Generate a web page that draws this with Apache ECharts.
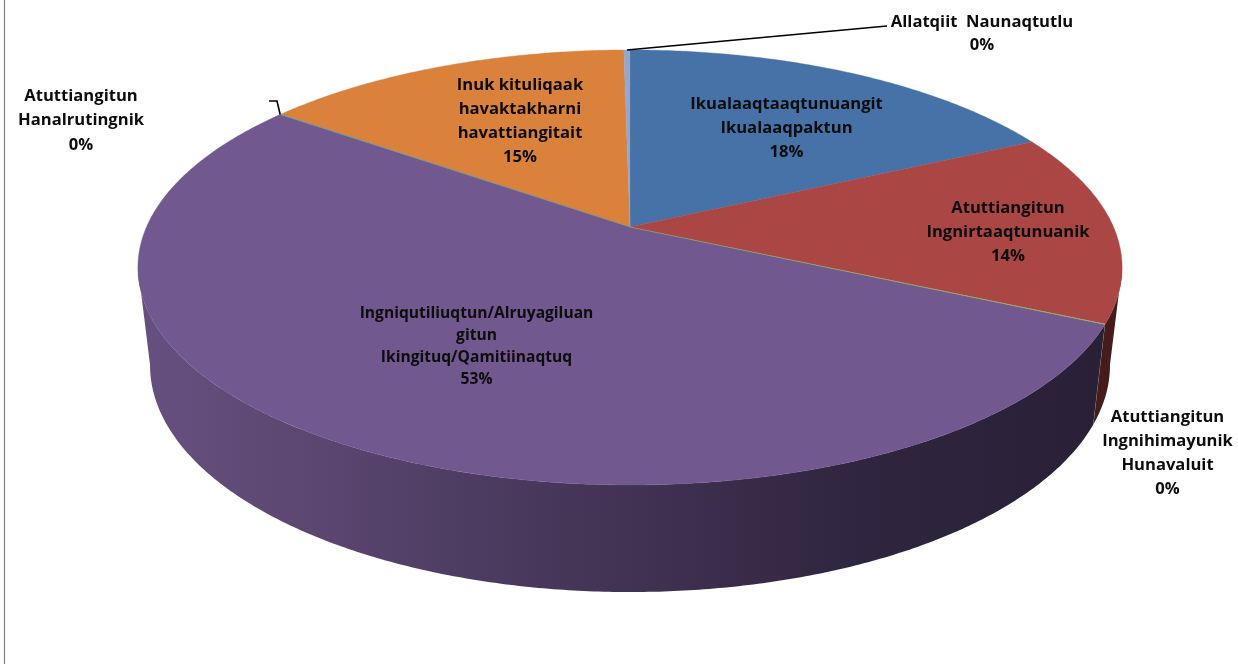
<!DOCTYPE html>
<html>
<head>
<meta charset="utf-8">
<style>html,body{margin:0;padding:0;background:#fff}#c{width:1238px;height:664px}</style>
<script src="https://cdn.jsdelivr.net/npm/echarts@6/dist/echarts.min.js"></script>
</head>
<body>
<div id="c"></div>
<script>
// Data, clockwise from 12 o'clock
var categories = [
  'Ikualaaqtaaqtunuangit\nIkualaaqpaktun',
  'Atuttiangitun\nIngnirtaaqtunuanik',
  'Atuttiangitun\nIngnihimayunik\nHunavaluit',
  'Ingniqutiliuqtun/Alruyagiluan\ngitun\nIkingituq/Qamitiinaqtuq',
  'Atuttiangitun\nHanalrutingnik',
  'Inuk kituliqaak\nhavaktakharni\nhavattiangitait',
  'Allatqiit  Naunaqtutlu'
];
var values = [17.8, 14.2, 0.03, 53.1, 0.03, 14.6, 0.24];

// Styles
var topColors = ['#4672A8', '#AA4644', '#98B954', '#71588F', '#4198AF', '#DA823C', '#94A7CF'];
var wallStops = [
  [[0, '#2A4263'], [1, '#2A4263']],
  [[0, '#4A1D1C'], [1, '#451C1B']],
  [[0, '#3C4A22'], [1, '#3C4A22']],
  [[0, '#665080'], [0.17, '#5C4772'], [0.38, '#4A3A5E'], [0.55, '#3E304F'], [0.75, '#2F2540'], [1, '#292036']],
  [[0, '#1F4A55'], [1, '#1F4A55']],
  [[0, '#6B401D'], [1, '#6B401D']],
  [[0, '#4A5268'], [1, '#4A5268']]
];
// Label layout: centre x, first line y, line height, font size
var labelLayout = [
  [786.5, 104, 24, 16.6], [1008, 208, 24.3, 16.6], [1167.5, 417.5, 24, 16.6], [476.5, 314, 21.8, 15.6],
  [81, 96, 24.5, 16.6], [520, 85.5, 24, 16.6], [982, 22, 23.5, 16.6]
];
var leaderEnds = { 4: [[277, 101], [269, 101]], 6: [[887, 26]] };

// Perspective disc: vertex position, radius, vertical radius, depth factor
var topDisc = { cx: 630, vy: 227, r: 483.5, t: 210, k: -0.186 };
var botDisc = { cx: 630, vy: 323, r: 471.6, t: 219, k: -0.186 };
var silhouette = [100.6, 259.4];
function rim(d, deg) {
  var a = deg * Math.PI / 180, X = Math.sin(a), Y = -Math.cos(a), w = 1 + d.k * Y;
  return [d.cx + d.r * X / w, d.vy + d.t * Y / w];
}

var total = values.reduce(function (a, b) { return a + b; }, 0);
var starts = [], acc = 0;
values.forEach(function (v) { starts.push(acc / total * 360); acc += v; });

function arcPts(d, from, to) {
  var pts = [], n = Math.max(2, Math.ceil((to - from) / 0.5));
  for (var i = 0; i <= n; i++) pts.push(rim(d, from + (to - from) * i / n));
  return pts;
}

function renderItem(params, api) {
  var i = params.dataIndex, v = api.value(0);
  var a0 = starts[i], a1 = a0 + v / total * 360;
  var children = [];

  // side wall: only the part that faces the viewer
  var w0 = Math.max(a0, silhouette[0]), w1 = Math.min(a1, silhouette[1]);
  if (w1 > w0) {
    var wall = arcPts(topDisc, w0, w1).concat(arcPts(botDisc, w0, w1).reverse());
    children.push({
      type: 'polygon', z2: 1, shape: { points: wall },
      style: {
        fill: new echarts.graphic.LinearGradient(138, 0, 1105, 0,
          wallStops[i].map(function (s) { return { offset: s[0], color: s[1] }; }), true),
        stroke: null
      }
    });
  }

  // top face
  var face = [[topDisc.cx, topDisc.vy]].concat(arcPts(topDisc, a0, a1));
  children.push({
    type: 'polygon', z2: v < 1 ? 4 : 3, shape: { points: face },
    style: { fill: topColors[i], stroke: topColors[i], lineWidth: v < 1 ? 0.3 : 0.4 }
  });

  // leader line
  if (leaderEnds[i]) {
    var mid = rim(topDisc, (a0 + a1) / 2);
    children.push({
      type: 'polyline', z2: 5, shape: { points: [mid].concat(leaderEnds[i]) },
      style: { fill: null, stroke: '#000', lineWidth: 1.6 }
    });
  }

  // label
  var pct = Math.round(v / total * 100) + '%';
  var lay = labelLayout[i];
  categories[i].split('\n').concat([pct]).forEach(function (line, n) {
    children.push({
      type: 'text', z2: 6, x: lay[0], y: lay[1] + n * lay[2],
      style: {
        text: line, fill: '#0d0d0d', align: 'center', verticalAlign: 'middle',
        font: 'bold ' + lay[3] + 'px "Open Sans", sans-serif'
      }
    });
  });
  return { type: 'group', children: children };
}

var chart = echarts.init(document.getElementById('c'), null, { renderer: 'canvas' });
chart.setOption({
  animation: false,
  backgroundColor: '#fff',
  graphic: [{
    type: 'line', shape: { x1: 4.5, y1: 0, x2: 4.5, y2: 664 },
    style: { stroke: '#808080', lineWidth: 1.2 }, silent: true
  }],
  series: [{
    type: 'custom',
    coordinateSystem: 'none',
    silent: true,
    renderItem: renderItem,
    data: values.map(function (v, i) { return { name: categories[i], value: [v] }; })
  }]
});
</script>
</body>
</html>
